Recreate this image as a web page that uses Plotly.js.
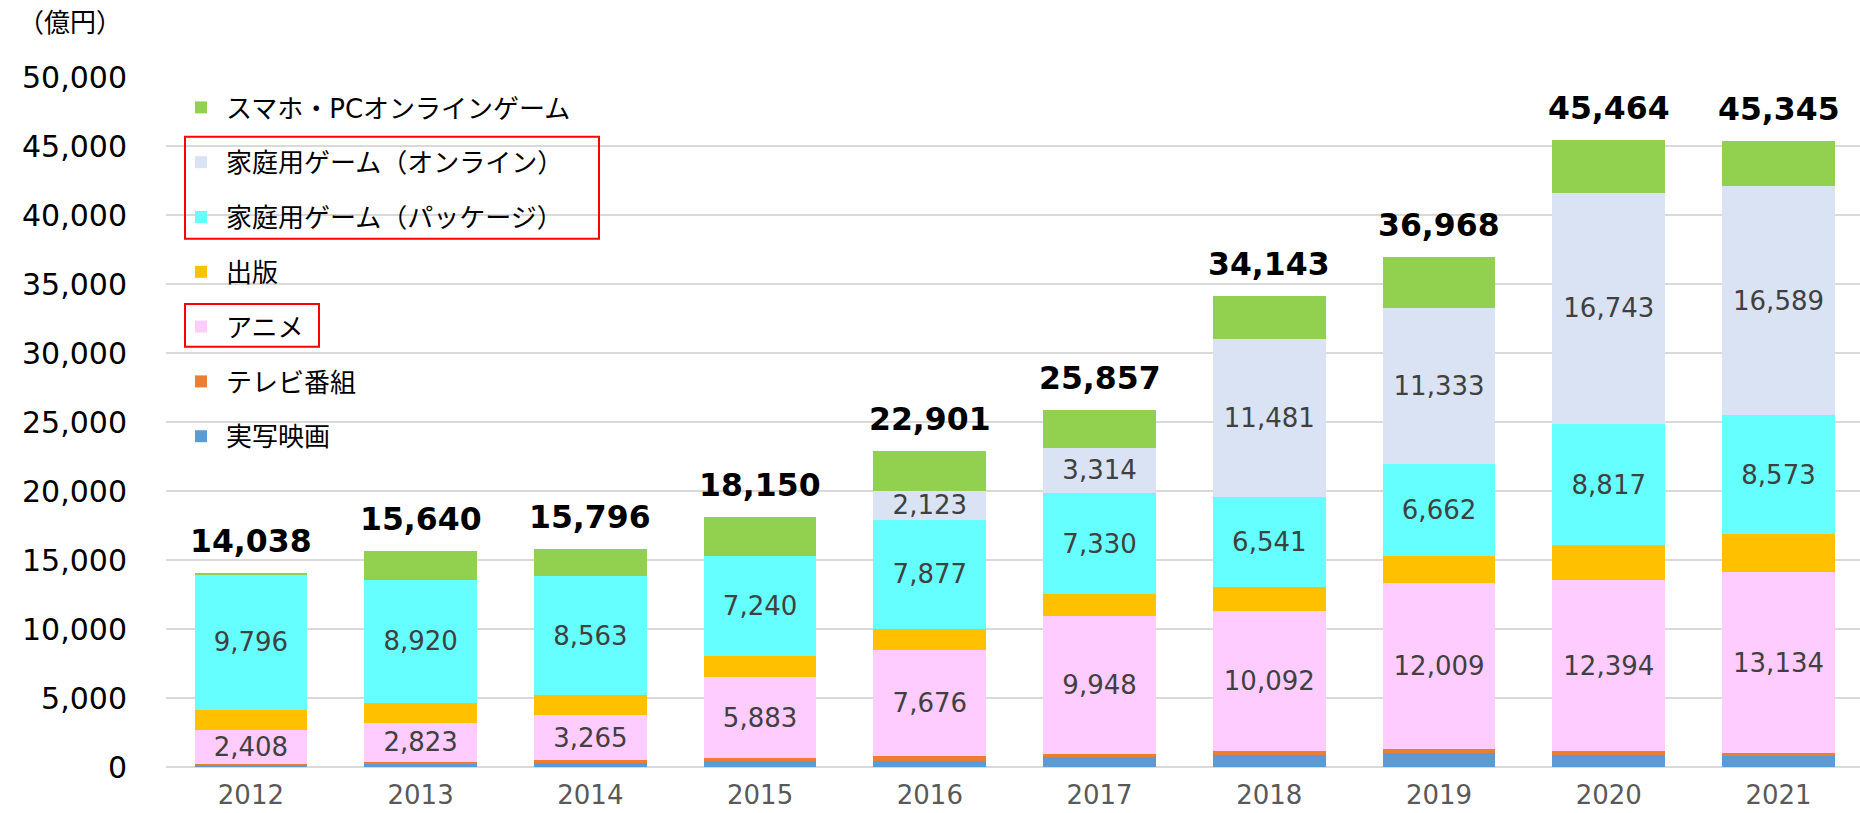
<!DOCTYPE html>
<html>
<head>
<meta charset="utf-8">
<script src="https://cdn.plot.ly/plotly-3.0.1.min.js"></script>
<style>html,body{margin:0;padding:0;background:#fff;}#chart{width:1860px;height:813px;}</style>
</head>
<body>
<div id="chart"></div>
<script>
// ---- data (億円) ----
const years = ['2012','2013','2014','2015','2016','2017','2018','2019','2020','2021'];
const film       = [150, 220, 300, 400, 470, 720, 890, 1020, 900, 790];          // 実写映画
const tv         = [100, 150, 200, 240, 300, 245, 290, 300, 230, 200];            // テレビ番組
const anime      = [2408, 2823, 3265, 5883, 7676, 9948, 10092, 12009, 12394, 13134]; // アニメ
const publishing = [1480, 1450, 1480, 1530, 1575, 1594, 1740, 1930, 2535, 2780];  // 出版
const gamePkg    = [9796, 8920, 8563, 7240, 7877, 7330, 6541, 6662, 8817, 8573];  // 家庭用ゲーム（パッケージ）
const gameOnline = [0, 0, 0, 0, 2123, 3314, 11481, 11333, 16743, 16589];          // 家庭用ゲーム（オンライン）
const mobilePC   = [104, 2077, 1988, 2857, 2880, 2706, 3109, 3714, 3845, 3279];   // スマホ・PCオンラインゲーム
const totals     = [14038, 15640, 15796, 18150, 22901, 25857, 34143, 36968, 45464, 45345];
const yTickVals  = [0, 5000, 10000, 15000, 20000, 25000, 30000, 35000, 40000, 45000, 50000];
const unitLabel  = '（億円）';

const names = {
  film: '実写映画', tv: 'テレビ番組', anime: 'アニメ', pub: '出版',
  pkg: '家庭用ゲーム（パッケージ）', online: '家庭用ゲーム（オンライン）', mobile: 'スマホ・PCオンラインゲーム'
};

const fmt = v => v.toLocaleString('en-US');
const LATIN = "'DejaVu Sans', 'Noto Sans CJK JP', sans-serif";
const CJK = "'DejaVu Sans', 'Noto Sans CJK JP', sans-serif";

function barTrace(name, y, color, showLabels, rank) {
  const t = {
    type: 'bar', name: name, x: years, y: y, legendgroup: name, legendrank: rank,
    marker: {color: color, line: {width: 0}},
    hoverinfo: 'x+y+name'
  };
  if (showLabels) {
    t.text = y.map(v => v > 0 ? fmt(v) : '');
    t.texttemplate = '%{text}';
    t.textposition = 'inside';
    t.insidetextanchor = 'middle';
    t.textangle = 0;
    t.constraintext = 'none';
    t.insidetextfont = {family: LATIN, size: 26, color: '#404040'};
  } else {
    t.textposition = 'none';
  }
  return t;
}

// stacking order bottom -> top; legend order top -> bottom follows legendrank
const traces = [
  barTrace(names.film, film, '#5B9BD5', false, 7),
  barTrace(names.tv, tv, '#ED7D31', false, 6),
  barTrace(names.anime, anime, '#FFCCFF', true, 5),
  barTrace(names.pub, publishing, '#FFC000', false, 4),
  barTrace(names.pkg, gamePkg, '#66FFFF', true, 3),
  barTrace(names.online, gameOnline, '#DAE3F3', true, 2),
  barTrace(names.mobile, mobilePC, '#92D050', false, 1)
];

// pixel helpers for the paper-positioned decorations
const L = 166, T = 77, W = 1860 - 166, H = 690;
const px = x => (x - L) / W;
const py = y => (T + H - y) / H;

const annotations = totals.map((v, i) => ({
  x: i, y: v, xref: 'x', yref: 'y',
  text: '<b>' + fmt(v) + '</b>', showarrow: false,
  xanchor: 'center', yanchor: 'bottom', yshift: 12,
  font: {family: LATIN, size: 31.5, color: '#000000'}
}));
annotations.push({
  x: px(70), y: py(21), xref: 'paper', yref: 'paper',
  text: unitLabel, showarrow: false, xanchor: 'center', yanchor: 'middle',
  font: {family: "'Noto Sans CJK JP', sans-serif", size: 26, color: '#000000'}
});

const redBox = (x0, y0, x1, y1) => ({
  type: 'rect', xref: 'paper', yref: 'paper',
  x0: px(x0), x1: px(x1), y0: py(y1), y1: py(y0),
  line: {color: '#FF0000', width: 2}, fillcolor: 'rgba(0,0,0,0)', layer: 'above'
});

const layout = {
  width: 1860, height: 813,
  margin: {l: L, r: 0, t: T, b: 813 - T - H, pad: 0},
  paper_bgcolor: '#ffffff', plot_bgcolor: '#ffffff',
  barmode: 'stack', bargap: 0.336,
  font: {family: CJK, color: '#000000'},
  showlegend: true,
  xaxis: {
    type: 'category', range: [-0.5, 9.48], showgrid: false, showline: false,
    zeroline: false, ticks: '', ticklabelstandoff: 10,
    tickfont: {family: LATIN, size: 26, color: '#595959'}, fixedrange: true
  },
  yaxis: {
    range: [0, 50000], tickmode: 'array', tickvals: yTickVals,
    ticktext: yTickVals.map(fmt), showgrid: true, gridcolor: '#D9D9D9', gridwidth: 1.5,
    zeroline: true, zerolinecolor: '#D9D9D9', zerolinewidth: 1.5, showline: false,
    ticks: '', ticklabelstandoff: 38,
    tickfont: {family: LATIN, size: 30, color: '#000000'}, fixedrange: true
  },
  legend: {
    x: px(176), xanchor: 'left', y: py(84), yanchor: 'top',
    traceorder: 'grouped', tracegroupgap: 18, itemwidth: 40,
    bgcolor: 'rgba(0,0,0,0)', borderwidth: 0,
    font: {family: CJK, size: 26, color: '#000000'}
  },
  annotations: annotations,
  shapes: [
    redBox(185, 136.7, 599, 238.7),
    redBox(185, 304, 319, 346.7)
  ]
};

Plotly.newPlot('chart', traces, layout, {displayModeBar: false, staticPlot: true});
</script>
</body>
</html>
